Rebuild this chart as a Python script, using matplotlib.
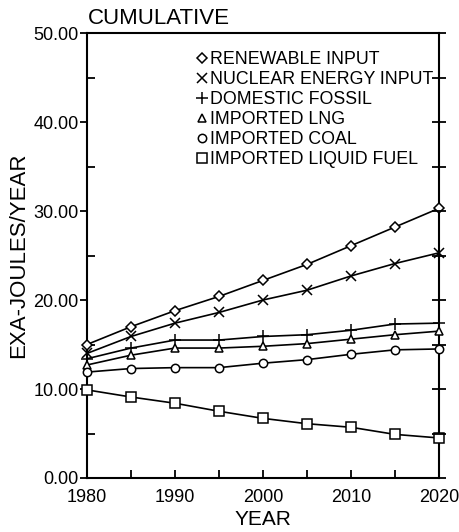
import matplotlib
matplotlib.use("Agg")
import matplotlib.pyplot as plt
from matplotlib.ticker import MultipleLocator, FormatStrFormatter

years = [1980, 1985, 1990, 1995, 2000, 2005, 2010, 2015, 2020]
renewable = [15.0, 17.0, 18.8, 20.4, 22.2, 24.0, 26.1, 28.2, 30.3]
nuclear = [14.0, 15.9, 17.4, 18.6, 20.0, 21.1, 22.7, 24.1, 25.3]
domestic_fossil = [13.4, 14.6, 15.5, 15.5, 15.9, 16.1, 16.6, 17.3, 17.4]
imported_lng = [12.7, 13.8, 14.6, 14.6, 14.8, 15.1, 15.6, 16.1, 16.5]
imported_coal = [11.9, 12.3, 12.4, 12.4, 12.9, 13.3, 13.9, 14.4, 14.5]
imported_liquid = [9.9, 9.1, 8.4, 7.5, 6.7, 6.1, 5.7, 4.9, 4.5]

labels = ["RENEWABLE INPUT", "NUCLEAR ENERGY INPUT", "DOMESTIC FOSSIL",
          "IMPORTED LNG", "IMPORTED COAL", "IMPORTED LIQUID FUEL"]
series = [renewable, nuclear, domestic_fossil, imported_lng, imported_coal, imported_liquid]
markers = ["D", "x", "+", "^", "o", "s"]
msizes = [5.5, 7, 8, 5.5, 6, 6.5]

plt.rcParams['font.family'] = ['Liberation Sans', 'DejaVu Sans']

fig = plt.figure(figsize=(4.6, 5.32), dpi=100)
ax = fig.add_axes([87/460, 1 - 478/532, (439 - 87)/460, (478 - 33)/532])

for vals, m, ms in zip(series, markers, msizes):
    ax.plot(years, vals, color='black', lw=1.2, marker=m, ms=ms,
            mfc='white', mec='black', mew=1.1, clip_on=False, zorder=3)

ax.set_xlim(1980, 2020)
ax.set_ylim(0, 50)
ax.xaxis.set_major_locator(MultipleLocator(10))
ax.xaxis.set_minor_locator(MultipleLocator(5))
ax.yaxis.set_major_locator(MultipleLocator(10))
ax.yaxis.set_minor_locator(MultipleLocator(5))
ax.yaxis.set_major_formatter(FormatStrFormatter('%.2f'))

for s in ax.spines.values():
    s.set_linewidth(1.5)

ax.tick_params(axis='x', which='both', direction='in', length=6, width=1.3,
               labelsize=13, pad=8, top=False)
ax.tick_params(axis='y', which='major', direction='out', length=5, width=1.3,
               labelsize=13, pad=1, right=False)
ax.tick_params(axis='y', which='minor', direction='in', length=6, width=1.3, right=False)

ax2 = ax.twinx()
ax2.set_ylim(0, 50)
ax2.yaxis.set_major_locator(MultipleLocator(5))
ax2.tick_params(axis='y', which='major', direction='inout', length=10, width=1.3,
                labelright=False)
ax2.tick_params(axis='y', which='minor', right=False)
for s in ax2.spines.values():
    s.set_visible(False)

ax.set_xlabel("YEAR", fontsize=15, labelpad=3)
ax.set_ylabel("EXA-JOULES/YEAR", fontsize=16, labelpad=3)
ax.text(0.003, 1.01, "CUMULATIVE", transform=ax.transAxes, fontsize=16,
        ha='left', va='bottom')

handles = [plt.Line2D([], [], ls='none', marker=m, ms=ms, mfc='white',
                      mec='black', mew=1.1, color='black')
           for m, ms in zip(markers, msizes)]
ax.legend(handles, labels, loc='upper right', bbox_to_anchor=(0.983, 0.96),
          frameon=False, fontsize=12.8, handlelength=0.6, handletextpad=0.15,
          labelspacing=0.17, borderpad=0, borderaxespad=0)

fig.savefig("out.png", dpi=100)
